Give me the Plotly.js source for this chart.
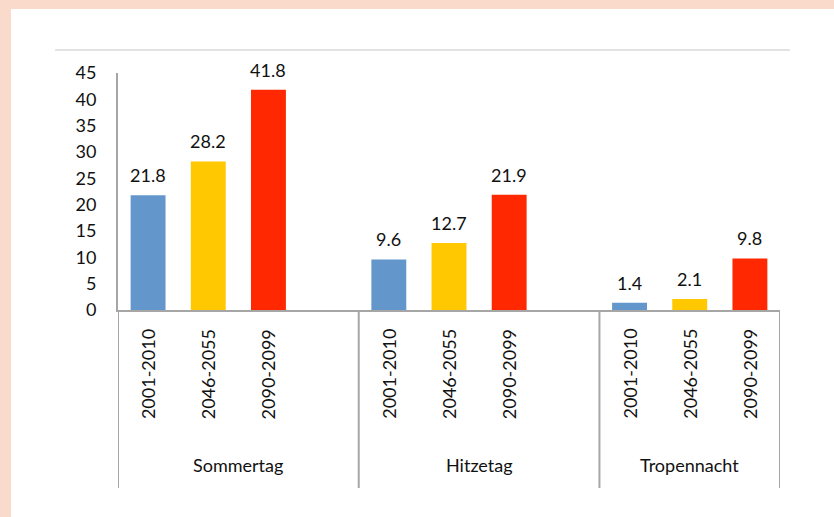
<!DOCTYPE html>
<html>
<head>
<meta charset="utf-8">
<script src="https://cdn.plot.ly/plotly-3.0.1.min.js"></script>
<style>
  html, body { margin: 0; padding: 0; background: #FADACB; width: 834px; height: 517px; overflow: hidden; }
  #chart { position: absolute; left: 11px; top: 9px; width: 823px; height: 508px; background: #fff; }
</style>
</head>
<body>
<div id="chart"></div>
<script>
const groups = ["Sommertag", "Hitzetag", "Tropennacht"];
const periods = ["2001-2010", "2046-2055", "2090-2099"];
const sommertag = [21.8, 28.2, 41.8];
const hitzetag = [9.6, 12.7, 21.9];
const tropennacht = [1.4, 2.1, 9.8];
const periodColors = ["#6397CC", "#FFC800", "#FF2800"];

const seriesByGroup = [sommertag, hitzetag, tropennacht];

// Build category slots (with an empty slot after the first two groups)
const cats = [], vals = [], cols = [];
const groupSpans = [];
seriesByGroup.forEach((arr, gi) => {
  const start = cats.length;
  arr.forEach((v, pi) => {
    cats.push(groups[gi] + " " + periods[pi]);
    vals.push(v);
    cols.push(periodColors[pi]);
  });
  if (gi < seriesByGroup.length - 1) {
    cats.push("gap" + gi);
    vals.push(null);
    cols.push("#fff");
  }
  groupSpans.push([start - 0.5, cats.length - 0.5]);
});

const font = "Lato, 'Open Sans', sans-serif";
const textColor = "#111111";
const lineColor = "#a6a6a6";
const fs = 18;

const annotations = [];
const shapes = [];
// value labels and rotated period labels
seriesByGroup.forEach((arr, gi) => {
  arr.forEach((v, pi) => {
    const c = groups[gi] + " " + periods[pi];
    annotations.push({
      x: c, y: v, xref: "x", yref: "y", text: v.toFixed(1), showarrow: false,
      yanchor: "bottom", yshift: 7, font: { family: font, size: fs, color: textColor }
    });
    annotations.push({
      x: c, y: -0.27, xref: "x", yref: "paper", text: periods[pi], showarrow: false,
      textangle: -90, xanchor: "center", yanchor: "middle",
      font: { family: font, size: fs, color: textColor }
    });
  });
});
// group labels and separators
groupSpans.forEach((sp, gi) => {
  annotations.push({
    x: (sp[0] + sp[1]) / 2, y: -0.655, xref: "x", yref: "paper", text: groups[gi], showarrow: false,
    xanchor: "center", yanchor: "middle", font: { family: font, size: fs, color: textColor }
  });
});
const sepPositions = [groupSpans[0][0]].concat(groupSpans.map(s => s[1]));
sepPositions.forEach(p => {
  shapes.push({ type: "line", xref: "x", yref: "paper", x0: p, x1: p, y0: 0, y1: -0.751,
    line: { color: lineColor, width: 2 } });
});
// light top rule
shapes.push({ type: "line", xref: "paper", yref: "paper", x0: -0.095, x1: 1.015, y0: 1.097, y1: 1.097,
  line: { color: "#d9d9d9", width: 1.5 } });

const trace = {
  type: "bar", x: cats, y: vals, marker: { color: cols, line: { width: 0 } },
  width: 0.58, hoverinfo: "skip"
};

const layout = {
  width: 823, height: 508,
  margin: { l: 107, r: 54, t: 64, b: 207 },
  paper_bgcolor: "#ffffff", plot_bgcolor: "#ffffff",
  showlegend: false,
  xaxis: {
    type: "category", range: [-0.5, cats.length - 0.5], showticklabels: false, ticks: "",
    showgrid: false, zeroline: false, showline: true, linecolor: lineColor, linewidth: 2,
    fixedrange: true
  },
  yaxis: {
    range: [0, 45], dtick: 5, tick0: 0, showgrid: false, zeroline: false,
    showline: true, linecolor: lineColor, linewidth: 2, ticks: "", ticklabelstandoff: 16,
    tickfont: { family: font, size: fs, color: textColor }, fixedrange: true
  },
  annotations: annotations,
  shapes: shapes
};

Plotly.newPlot("chart", [trace], layout, { staticPlot: true, displayModeBar: false });
</script>
</body>
</html>
